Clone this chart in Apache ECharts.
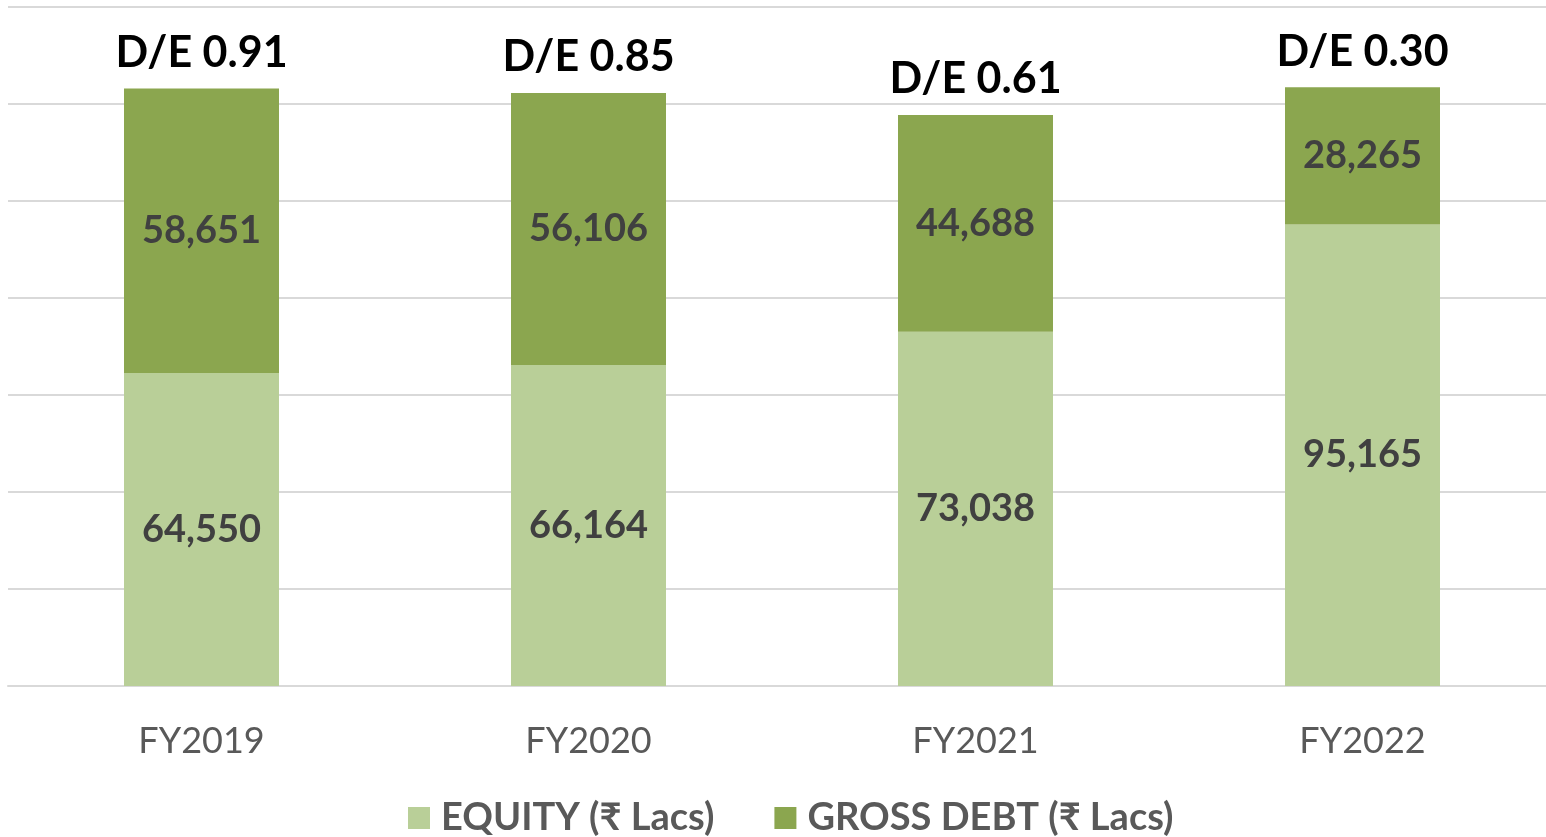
<!DOCTYPE html>
<html>
<head>
<meta charset="utf-8">
<title>Equity vs Gross Debt</title>
<script src="https://cdn.jsdelivr.net/npm/echarts@6/dist/echarts.min.js"></script>
<style>
    html, body { margin: 0; padding: 0; background: #fff; overflow: hidden; }
    #main { width: 1556px; height: 837px; }
</style>
</head>
<body>
<div id="main"></div>
<script>
var years = ['FY2019', 'FY2020', 'FY2021', 'FY2022'];
var equity = [64550, 66164, 73038, 95165];
var grossDebt = [58651, 56106, 44688, 28265];
var deRatio = ['0.91', '0.85', '0.61', '0.30'];

var font = 'Lato, "Liberation Sans", "DejaVu Sans", sans-serif';
var myChart = echarts.init(document.getElementById('main'));

function fmt(p) {
    return p.value.toLocaleString('en-US');
}

var option = {
    animation: false,
    textStyle: { fontFamily: font },
    grid: { left: 8, right: 0, top: 7, bottom: 151 },
    legend: {
        data: ['EQUITY (₹ Lacs)', 'GROSS DEBT (₹ Lacs)'],
        bottom: -5,
        left: 403,
        icon: 'rect',
        itemWidth: 22,
        itemHeight: 22,
        itemGap: 60,
        textStyle: { fontSize: 38, fontWeight: 'bold', color: '#595959', fontFamily: font, padding: [0, 0, 0, 6] }
    },
    xAxis: {
        type: 'category',
        data: years,
        axisTick: { show: false },
        axisLine: { lineStyle: { color: '#d9d9d9', width: 2 } },
        axisLabel: { fontSize: 36, color: '#595959', margin: 37, fontFamily: font }
    },
    yAxis: {
        type: 'value',
        min: 0,
        max: 140000,
        interval: 20000,
        axisLabel: { show: false },
        axisLine: { show: false },
        axisTick: { show: false },
        splitLine: { lineStyle: { color: '#d9d9d9', width: 2 } }
    },
    series: [{
        name: 'EQUITY (₹ Lacs)',
        type: 'bar',
        stack: 'total',
        barWidth: 155,
        itemStyle: { color: '#b9cf98' },
        label: { show: true, position: 'inside', formatter: fmt, fontSize: 38, fontWeight: 'bold', color: '#404040', fontFamily: font },
        data: equity
    }, {
        name: 'GROSS DEBT (₹ Lacs)',
        type: 'bar',
        stack: 'total',
        barWidth: 155,
        itemStyle: { color: '#8ba64f' },
        label: { show: true, position: 'inside', formatter: fmt, fontSize: 38, fontWeight: 'bold', color: '#404040', fontFamily: font },
        data: grossDebt
    }, {
        name: 'D/E',
        type: 'bar',
        stack: 'total',
        barWidth: 155,
        silent: true,
        itemStyle: { color: 'transparent' },
        label: {
            show: true,
            position: 'top',
            distance: 14,
            formatter: function (p) { return 'D/E ' + deRatio[p.dataIndex]; },
            fontSize: 43,
            fontWeight: 'bold',
            color: '#000',
            fontFamily: font
        },
        data: years.map(function () { return 0; })
    }]
};

myChart.setOption(option);

window.addEventListener('resize', function () {
    myChart.resize();
});
</script>
</body>
</html>
